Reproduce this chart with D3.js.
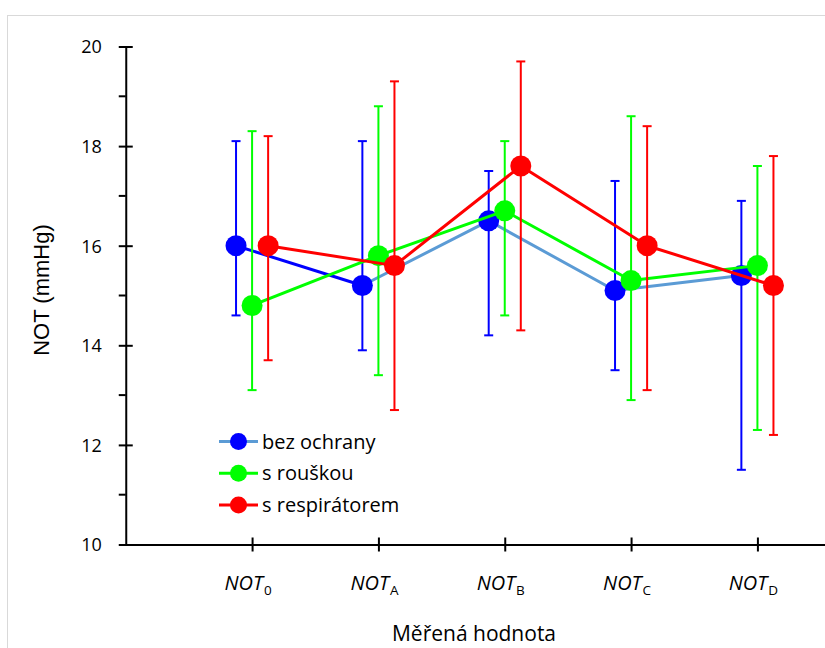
<!DOCTYPE html>
<html>
<head>
<meta charset="utf-8">
<script src="https://cdn.jsdelivr.net/npm/d3@7"></script>
<style>
  html, body { margin: 0; padding: 0; background: #fff; }
  svg { display: block; }
</style>
</head>
<body>
<svg id="chart" width="825" height="648"></svg>
<script>
// ---- data ----
const categories = ["0", "A", "B", "C", "D"];          // subscripts of NOT
const seriesNames = ["bez ochrany", "s rouškou", "s respirátorem"];
const bezOchrany      = [16.0, 15.2, 16.5, 15.1, 15.4];
const bezOchranyLo    = [14.6, 13.9, 14.2, 13.5, 11.5];
const bezOchranyHi    = [18.1, 18.1, 17.5, 17.3, 16.9];
const sRouskou        = [14.8, 15.8, 16.7, 15.3, 15.6];
const sRouskouLo      = [13.1, 13.4, 14.6, 12.9, 12.3];
const sRouskouHi      = [18.3, 18.8, 18.1, 18.6, 17.6];
const sRespiratorem   = [16.0, 15.6, 17.6, 16.0, 15.2];
const sRespiratoremLo = [13.7, 12.7, 14.3, 13.1, 12.2];
const sRespiratoremHi = [18.2, 19.3, 19.7, 18.4, 17.8];
const yTicks = [10, 12, 14, 16, 18, 20];
const yMinorTicks = [11, 13, 15, 17, 19];
const xTitle = "Měřená hodnota";
const yTitle = "NOT (mmHg)";

// ---- styling ----
const markerColors = ["#0000FF", "#00FF00", "#FF0000"];
const lineColors   = ["#5B9BD5", "#00FF00", "#FF0000"];
const firstSegColors = ["#0000FF", "#00FF00", "#FF0000"];
const offsets = [-0.127, 0, 0.127];

const series = [
  { name: seriesNames[0], v: bezOchrany, lo: bezOchranyLo, hi: bezOchranyHi },
  { name: seriesNames[1], v: sRouskou, lo: sRouskouLo, hi: sRouskouHi },
  { name: seriesNames[2], v: sRespiratorem, lo: sRespiratoremLo, hi: sRespiratoremHi }
];

const svg = d3.select("#chart");
const fontMain = "'Open Sans', 'Noto Sans', sans-serif";

// outer border of the chart area
svg.append("rect")
  .attr("x", 7.5).attr("y", 15.5)
  .attr("width", 900).attr("height", 700)
  .attr("fill", "none").attr("stroke", "#d9d9d9").attr("stroke-width", 1);

const x = d3.scaleLinear().domain([0, 5.535]).range([125.75, 825]);
const y = d3.scaleLinear().domain([10, 20]).range([544.5, 46.5]);

// y axis
const yAxis = d3.axisLeft(y).tickValues(yTicks).tickSize(0).tickPadding(0).tickFormat(d3.format("d"));
const gy = svg.append("g").attr("transform", `translate(${x(0)},0)`).call(yAxis);
gy.select(".domain").attr("stroke", "#000").attr("stroke-width", 2);
gy.selectAll(".tick text")
  .attr("x", -24).attr("dy", "0.35em")
  .attr("font-family", fontMain).attr("font-size", 18).attr("fill", "#000");
gy.selectAll(".tick").append("line")
  .attr("x1", -7).attr("x2", 7).attr("stroke", "#000").attr("stroke-width", 2);
svg.append("g").selectAll("line").data(yMinorTicks).join("line")
  .attr("x1", x(0) - 7).attr("x2", x(0))
  .attr("y1", d => y(d)).attr("y2", d => y(d))
  .attr("stroke", "#000").attr("stroke-width", 2);

// x axis
const xAxis = d3.axisBottom(x).tickValues(categories.map((c, i) => i + 1)).tickSize(0).tickFormat("");
const gx = svg.append("g").attr("transform", `translate(0,${y(10)})`).call(xAxis);
gx.select(".domain").attr("stroke", "#000").attr("stroke-width", 2);
gx.selectAll(".tick").append("line")
  .attr("y1", -7).attr("y2", 7).attr("stroke", "#000").attr("stroke-width", 2);

// x tick labels NOT with subscript
const xl = svg.append("g").selectAll("text").data(categories).join("text")
  .attr("x", (d, i) => x(i + 1) - 4)
  .attr("y", 590)
  .attr("text-anchor", "middle")
  .attr("font-family", fontMain)
  .attr("font-size", 20)
  .attr("fill", "#000");
xl.append("tspan").attr("font-style", "italic").text("NOT");
xl.append("tspan").attr("font-size", 13.5).attr("dy", 5).attr("dx", 1).text(d => d);

// axis titles
svg.append("text")
  .attr("x", 474).attr("y", 641)
  .attr("text-anchor", "middle")
  .attr("font-family", fontMain).attr("font-size", 21).attr("fill", "#000")
  .text(xTitle);
svg.append("text")
  .attr("transform", "translate(49,290) rotate(-90)")
  .attr("text-anchor", "middle")
  .attr("font-family", "'Liberation Sans', Arial, sans-serif").attr("font-size", 22).attr("fill", "#000")
  .text(yTitle);

// series
series.forEach((s, k) => {
  const g = svg.append("g");
  const px = i => x(i + 1 + offsets[k]);
  // error bars
  const eb = g.append("g").attr("stroke", markerColors[k]).attr("stroke-width", 2);
  s.v.forEach((v, i) => {
    eb.append("line").attr("x1", px(i)).attr("x2", px(i)).attr("y1", y(s.lo[i])).attr("y2", y(s.hi[i]));
    eb.append("line").attr("x1", px(i) - 4.5).attr("x2", px(i) + 4.5).attr("y1", y(s.lo[i])).attr("y2", y(s.lo[i]));
    eb.append("line").attr("x1", px(i) - 4.5).attr("x2", px(i) + 4.5).attr("y1", y(s.hi[i])).attr("y2", y(s.hi[i]));
  });
  // line segments
  const pts = s.v.map((v, i) => [px(i), y(v)]);
  const line = d3.line();
  g.append("path").attr("d", line(pts.slice(1)))
    .attr("fill", "none").attr("stroke", lineColors[k]).attr("stroke-width", 3).attr("stroke-linejoin", "round");
  g.append("path").attr("d", line(pts.slice(0, 2)))
    .attr("fill", "none").attr("stroke", firstSegColors[k]).attr("stroke-width", 3);
  // markers
  g.selectAll("circle").data(pts).join("circle")
    .attr("cx", d => d[0]).attr("cy", d => d[1]).attr("r", 10.5)
    .attr("fill", markerColors[k]);
});

// legend
const lg = svg.append("g");
series.forEach((s, k) => {
  const ly = 441.5 + k * 31.7;
  lg.append("line").attr("x1", 219).attr("x2", 258).attr("y1", ly).attr("y2", ly)
    .attr("stroke", lineColors[k]).attr("stroke-width", 3);
  lg.append("circle").attr("cx", 238.5).attr("cy", ly).attr("r", 8.5).attr("fill", markerColors[k]);
  lg.append("text").attr("x", 262).attr("y", ly).attr("dy", "0.35em")
    .attr("font-family", fontMain).attr("font-size", 20).attr("fill", "#000")
    .text(s.name);
});
</script>
</body>
</html>
